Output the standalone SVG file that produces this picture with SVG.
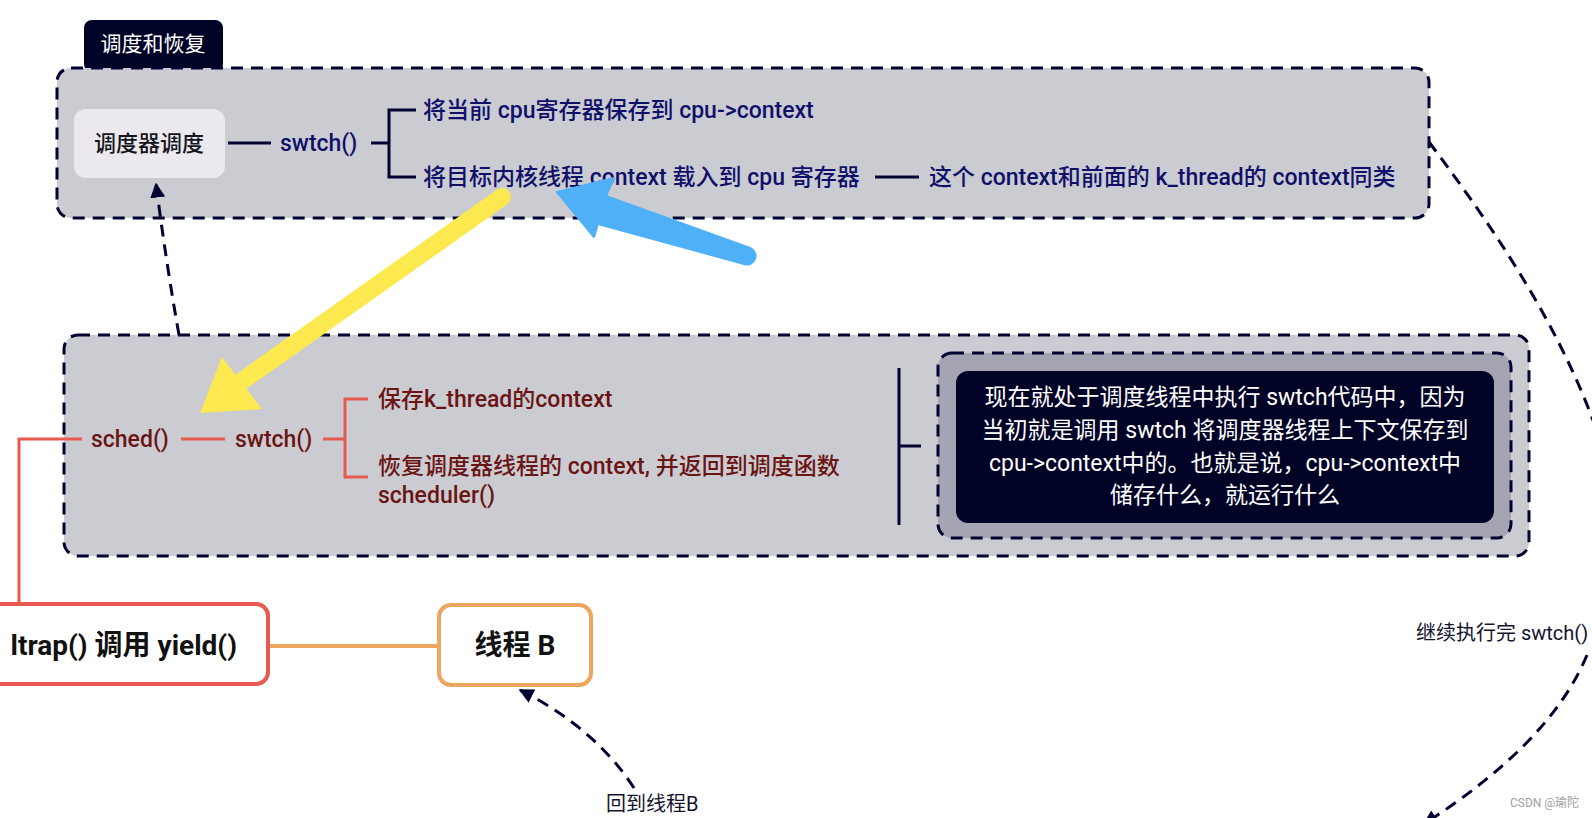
<svg xmlns="http://www.w3.org/2000/svg" width="1592" height="818" viewBox="0 0 1592 818">
<defs>
<style>
text{font-family:Roboto,"Noto Sans CJK SC",sans-serif;dominant-baseline:central}
.dash{fill:none;stroke:#010231;stroke-width:3;stroke-dasharray:12 8}
.nv{fill:#10106a;font-size:23px;font-weight:500}
.mr{fill:#6b1414;font-size:23px;font-weight:500}
.wt{fill:#ffffff;font-size:23px;text-anchor:middle}
.nl{fill:none;stroke:#010231;stroke-width:3}
.rl{fill:none;stroke:#e85a4f;stroke-width:3}
.lbl{fill:#14142e;font-size:20px}
</style>
<marker id="ah" viewBox="0 0 10 10" refX="9" refY="5" markerWidth="5" markerHeight="5" orient="auto" markerUnits="strokeWidth">
<path d="M0,0 L10,5 L0,10 Z" fill="#010231"/>
</marker>
</defs>
<rect width="1592" height="818" fill="#ffffff"/>

<g id="group-top">
<rect x="84" y="20" width="139" height="52" rx="8" fill="#010326"/>
<text x="153" y="44" style="fill:#fff;font-size:21px;text-anchor:middle">调度和恢复</text>
<rect class="dash" x="57" y="68" width="1372" height="150" rx="14" style="fill:#cbccd2"/>
</g>

<g id="group-mid">
<rect class="dash" x="64" y="335" width="1465" height="221" rx="14" style="fill:#cbccd2"/>
</g>

<g id="connectors">
<path class="nl" d="M228,143 H271 M371,143 H389 M416,110 H389 V177 H416 M875,177 H919"/>
<path class="rl" d="M181,439 H225 M323,439 H345 M368,399 H345 V477 H368"/>
<path class="rl" d="M82,439 H19 V604"/>
<path class="nl" d="M899,368 V525 M899,446 H921"/>
<path d="M268,646 H439" fill="none" stroke="#eca65f" stroke-width="4"/>
<path class="dash" d="M179,335 Q166,262 156,184" marker-end="url(#ah)"/>
<path class="dash" d="M1429,142 C1480,210 1560,320 1600,440"/>
<path class="dash" d="M1587,655 C1560,720 1500,775 1424,824" marker-end="url(#ah)"/>
<path class="dash" d="M634,788 Q595,728 520,690" marker-end="url(#ah)"/>
</g>

<g id="node-scheduler">
<rect x="74" y="109" width="151" height="69" rx="12" fill="#ebe9ee"/>
<text x="149" y="143" style="fill:#151520;font-size:22px;font-weight:500;text-anchor:middle">调度器调度</text>
</g>
<g id="node-swtch-top"><text class="nv" x="280" y="143">swtch()</text></g>
<g id="node-save"><text class="nv" x="423" y="110">将当前 cpu寄存器保存到 cpu-&gt;context</text></g>
<g id="node-load"><text class="nv" x="423" y="177">将目标内核线程 context 载入到 cpu 寄存器</text></g>
<g id="node-same"><text class="nv" x="929" y="177">这个 context和前面的 k_thread的 context同类</text></g>

<g id="node-sched"><text class="mr" x="91" y="439">sched()</text></g>
<g id="node-swtch-mid"><text class="mr" x="235" y="439">swtch()</text></g>
<g id="node-savek"><text class="mr" x="378" y="399">保存k_thread的context</text></g>
<g id="node-restore">
<text class="mr" x="378" y="466">恢复调度器线程的 context, 并返回到调度函数</text>
<text class="mr" x="378" y="495">scheduler()</text>
</g>

<g id="node-note">
<rect class="dash" x="938" y="353" width="573" height="185" rx="14" style="fill:#a5a4b2"/>
<rect x="956" y="371" width="538" height="152" rx="12" fill="#010326"/>
<text class="wt" x="1225" y="397">现在就处于调度线程中执行 swtch代码中，因为</text>
<text class="wt" x="1225" y="430">当初就是调用 swtch 将调度器线程上下文保存到</text>
<text class="wt" x="1225" y="463">cpu-&gt;context中的。也就是说，cpu-&gt;context中</text>
<text class="wt" x="1225" y="495">储存什么，就运行什么</text>
</g>

<g id="node-trap">
<rect x="-20" y="604" width="288" height="80" rx="12" fill="#ffffff" stroke="#e85a4f" stroke-width="4"/>
<text x="237" y="645" style="fill:#111;font-size:28px;font-weight:bold;text-anchor:end">ltrap() 调用 yield()</text>
</g>

<g id="node-threadB">
<rect x="439" y="605" width="152" height="80" rx="12" fill="#ffffff" stroke="#eca65f" stroke-width="4"/>
<text x="515" y="645" style="fill:#111;font-size:28px;font-weight:bold;text-anchor:middle">线程 B</text>
</g>

<g id="label-back"><text class="lbl" x="606" y="804">回到线程B</text></g>
<g id="label-continue"><text class="lbl" x="1416" y="633">继续执行完 swtch()</text></g>
<g id="watermark"><text x="1510" y="803" style="fill:#a0a0a0;font-size:12px">CSDN @瑜陀</text></g>

<g id="arrow-yellow">
<path d="M502,197 L242,381" stroke="#fbe94f" stroke-width="18" stroke-linecap="round" fill="none"/>
<polygon points="200,413 222,357 262,409" fill="#fbe94f"/>
</g>
<g id="arrow-blue">
<path d="M557,192 L614,178 L606,196 L750,248 A8,8 0 0 1 744,264 L598,224 L594,237 Z" fill="#4fb0f8" stroke="#4fb0f8" stroke-width="2" stroke-linejoin="round"/>
</g>
</svg>
